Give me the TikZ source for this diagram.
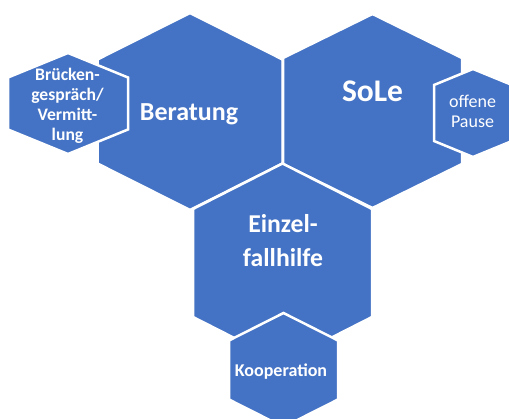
\documentclass[tikz,border=0pt]{standalone}
\usepackage{fontspec}
\setmainfont{Carlito}
\definecolor{hexblue}{HTML}{4472C4}
\tikzset{
  hexshape/.style={fill=hexblue, draw=white, line width=2.5pt, line join=miter},
  hexlabel/.style={text=white, align=center, inner sep=0pt, anchor=base},
}
\newcommand\hexa[6]{%
  \filldraw[hexshape] (#1,{#2-#4}) coordinate (#6-top)
    -- ({#1+#3},{#2-#5}) -- ({#1+#3},{#2+#5})
    -- (#1,{#2+#4}) -- ({#1-#3},{#2+#5}) -- ({#1-#3},{#2-#5}) -- cycle;}
\begin{document}
\begin{tikzpicture}[x=1pt,y=-1pt]
\useasboundingbox (0,0) rectangle (509,419);
\clip (0,0) rectangle (509,419);
\hexa{190}{111.5}{92.5}{98.5}{52}{ber}
\hexa{372.5}{111}{89.5}{97}{53}{sole}
\hexa{282.5}{263}{89.5}{99.5}{54}{einz}
\hexa{68}{103.5}{60}{50.5}{26}{brue}
\hexa{473}{113}{39}{44}{28}{pause}
\hexa{283.5}{370}{54.5}{57}{29.5}{koop}
\node[hexlabel, font=\bfseries\fontsize{26}{30}\selectfont] (tber) at (189,121) {Beratung};
\node[hexlabel, font=\bfseries\fontsize{31.5}{36}\selectfont] (tsole) at (372.5,102) {SoLe};
\node[hexlabel, font=\bfseries\fontsize{25.7}{34}\selectfont] (teinz) at (283,267) {Einzel-\\fallhilfe};
\node[hexlabel, font=\bfseries\fontsize{17.6}{20.3}\selectfont] (tbrue) at (67.5,141) {Brücken-\\gespräch/\\Vermitt-\\lung};
\node[hexlabel, font=\fontsize{18}{20}\selectfont] (tpause) at (472.5,128) {offene\\Pause};
\node[hexlabel, font=\bfseries\fontsize{18}{22}\selectfont] (tkoop) at (281,377) {Kooperation};
\end{tikzpicture}
\end{document}
